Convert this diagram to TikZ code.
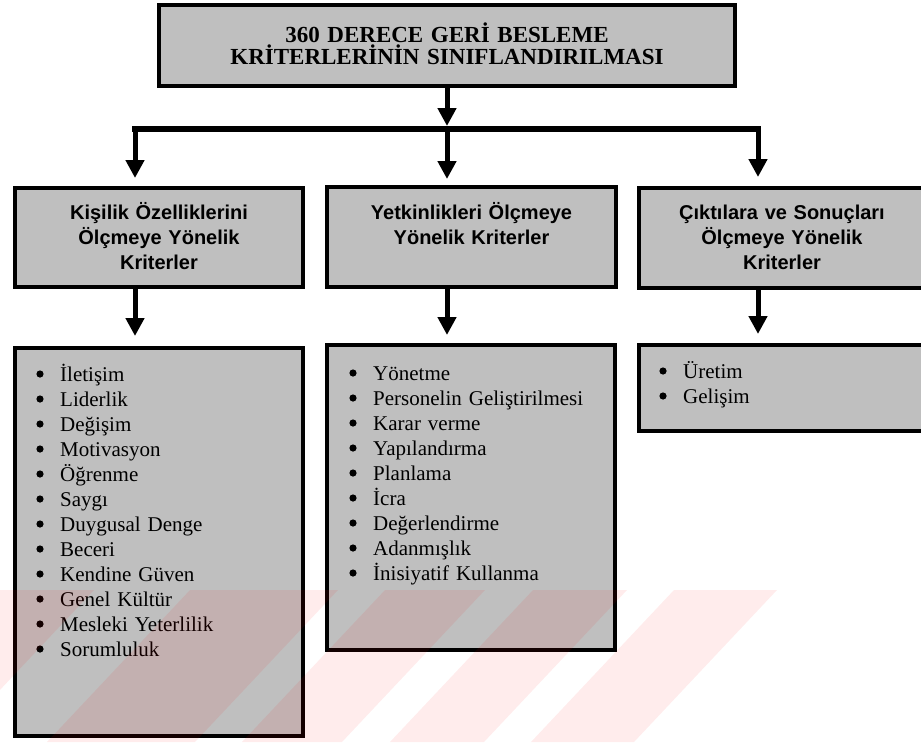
\documentclass[tikz,border=0pt]{standalone}
\usepackage{fontspec}
\setmainfont{Liberation Serif}
\newfontfamily\headsans{Liberation Sans}
\usetikzlibrary{arrows.meta,fit}

\begin{document}
\begin{tikzpicture}[x=1pt,y=-1pt,
  panel/.style={draw=black, line width=4pt, fill=black!25, inner sep=0pt},
  titletext/.style={font=\fontsize{23}{22}\selectfont\bfseries, text width=560pt,
    align=center, inner sep=0pt, anchor=base},
  headtext/.style={font=\headsans\fontsize{20}{25}\selectfont\bfseries, text width=280pt,
    align=center, inner sep=0pt, anchor=base},
  itemtext/.style={font=\fontsize{21}{25}\selectfont, text width=250pt,
    align=left, inner sep=0pt, anchor=base west},
  bulletdot/.style={fill=black},
  link/.style={line width=5pt, -{Triangle[width=18pt,length=18pt]}},
  crossbar/.style={line width=6pt, line cap=rect},
  wmstripe/.style={fill=red, fill opacity=0.075}
]
\useasboundingbox (0,0) rectangle (921,742);

% title
\node[panel, fit={(159,5) (735,86)}] (title) {};
\node[titletext] (titlet) at (447,42) {360 DERECE GERİ BESLEME\\KRİTERLERİNİN SINIFLANDIRILMASI};

% category boxes
\node[panel, fit={(15,188) (303,287)}] (h1) {};
\node[panel, fit={(327,187) (616,287)}] (h2) {};
\node[panel, fit={(639,188) (925,288)}] (h3) {};
\node[headtext] (h1t) at (159,219) {Kişilik Özelliklerini\\Ölçmeye Yönelik\\Kriterler};
\node[headtext] (h2t) at (471.5,219) {Yetkinlikleri Ölçmeye\\Yönelik Kriterler};
\node[headtext] (h3t) at (782,219) {Çıktılara ve Sonuçları\\Ölçmeye Yönelik\\Kriterler};

% criteria lists
\node[panel, fit={(15,348) (303,736)}] (l1) {};
\node[panel, fit={(327,345) (615,650)}] (l2) {};
\node[panel, fit={(639,345) (925,431)}] (l3) {};
\node[itemtext] (l1t) at (60,381) {İletişim\\Liderlik\\Değişim\\Motivasyon\\
  Öğrenme\\Saygı\\Duygusal Denge\\Beceri\\Kendine Güven\\
  Genel Kültür\\Mesleki Yeterlilik\\Sorumluluk};
\node[itemtext] (l2t) at (373,380) {Yönetme\\Personelin Geliştirilmesi\\Karar verme\\
  Yapılandırma\\Planlama\\İcra\\Değerlendirme\\Adanmışlık\\
  İnisiyatif Kullanma};
\node[itemtext] (l3t) at (683,378) {Üretim\\Gelişim};

% bullets, one per list line
\foreach \i in {0,...,11} \fill[bulletdot] (40,374+25*\i) circle[radius=3.6pt];
\foreach \i in {0,...,8}  \fill[bulletdot] (353,373+25*\i) circle[radius=3.6pt];
\foreach \i in {0,1}      \fill[bulletdot] (663,371+25*\i) circle[radius=3.6pt];

% distribution bar
\coordinate (barL) at (135,129);
\coordinate (barM) at (447,129);
\coordinate (barR) at (758,129);
\draw[crossbar] (barL) -- (barR);
\draw[link, shorten >=3pt] (title.south) -- (barM);

% arrows into the category boxes
\draw[link, shorten >=8pt] (barL) -- (barL |- h1.north);
\draw[link, shorten >=6pt] (barM) -- (barM |- h2.north);
\draw[link, shorten >=9pt] (barR) -- (barR |- h3.north);

% arrows into the lists
\draw[link, shorten >=10pt] (barL |- h1.south) -- (barL |- l1.north);
\draw[link, shorten >=8pt] (barM |- h2.south) -- (barM |- l2.north);
\draw[link, shorten >=9pt] (barR |- h3.south) -- (barR |- l3.north);

% faint diagonal stripes across the lower part of the page
\begin{scope}
  \clip (0,590) rectangle (921,742);
  \fill[wmstripe] (674,590) -- (777,590) -- (634,742) -- (531,742) -- cycle;
  \fill[wmstripe] (533,590) -- (627,590) -- (484,742) -- (390,742) -- cycle;
  \fill[wmstripe] (385,590) -- (485,590) -- (342,742) -- (242,742) -- cycle;
  \fill[wmstripe] (190,590) -- (338,590) -- (195,742) -- (47,742) -- cycle;
  \fill[wmstripe] (-80,590) -- (94,590) -- (-49,742) -- (-223,742) -- cycle;
\end{scope}
\end{tikzpicture}
\end{document}
